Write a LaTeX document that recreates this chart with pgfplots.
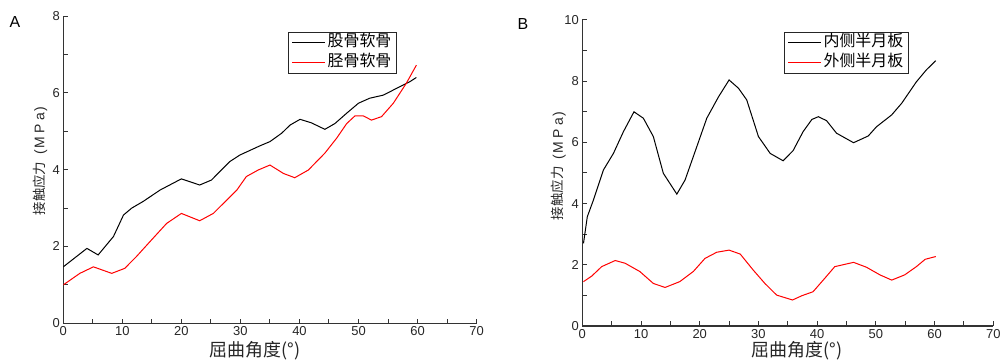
\documentclass[border=0pt]{standalone}
\usepackage{fontspec}
\setmainfont{Liberation Sans}
\newfontfamily\cjk{Noto Sans CJK SC}
\usepackage{pgfplots}
\pgfplotsset{compat=1.18}
\newcommand{\ylab}{{\cjk\fontsize{13.5}{15}\selectfont 接触应力}\hspace{7bp}{\rmfamily\fontsize{14}{16}\selectfont (\kern1.5bp M\kern3.5bp P\kern3.5bp a\kern1.5bp)}}
\begin{document}
\begin{tikzpicture}
\useasboundingbox (0bp,0bp) rectangle (1000bp,362bp);
\pgfplotsset{myaxis/.style={
 scale only axis, axis x line*=bottom, axis y line*=left,
 axis line style={-, line width=1.2bp, black!80},
 tick align=inside, major tick length=4.5bp, minor tick length=4.5bp,
 tick style={black!80, line width=1bp},
 xmin=0,xmax=70, xtick={0,10,...,70}, minor xtick={5,15,...,65},
 /pgf/number format/assume math mode=true,
 tick label style={font=\fontsize{13}{15}\selectfont, text=black!85},
 xlabel style={font=\cjk\fontsize{18}{20}\selectfont, text=black!85, anchor=center},
 ylabel style={text=black!85, anchor=center},
 legend style={draw=black!85, line width=1bp, font=\cjk\fontsize{16}{18}\selectfont, anchor=north west, inner xsep=3bp, inner ysep=1.5bp, row sep=2bp,
   nodes={text height=11bp, text depth=3bp}},
 legend cell align=left,
 legend image code/.code={\draw[#1] (0bp,0bp) -- (33bp,0bp);},
 every axis plot/.append style={line width=1bp, mark=none},
}}
\node[font=\fontsize{16}{18}\selectfont] at (15bp,340bp) {A};
\node[font=\fontsize{16}{18}\selectfont] at (523bp,338bp) {B};
\begin{axis}[myaxis, at={(63.3bp,38.7bp)}, anchor=south west, width=413.3bp, height=307.3bp,
 ymin=0, ymax=8, ytick={0,2,...,8}, minor ytick={1,3,5,7},
 xlabel={屈曲角度(°)}, ylabel={\ylab},
 xlabel style={at={(axis description cs:0.464,0)}, yshift=-27.7bp},
 ylabel style={at={(axis description cs:-0.0564,0.528)}},
 legend style={at={(0.544,0.948)}}]
\addplot[black] coordinates {
(0,1.47) (4,1.95) (5.9,1.78) (8.5,2.26) (10.2,2.82) (11.6,3.0) (13.5,3.17) (16.4,3.47)
(20,3.76) (23.1,3.6) (25.1,3.73) (26.5,3.95) (28.2,4.21) (29.9,4.38) (33.3,4.62) (35,4.73)
(37,4.95) (38.4,5.16) (40.1,5.31) (42,5.22) (44.3,5.05) (46,5.2) (48,5.47) (50,5.73)
(51.9,5.86) (54.2,5.94) (57,6.16) (58.7,6.29) (59.8,6.4)};
\addlegendentry{股骨软骨}
\addplot[red] coordinates {
(0,1.0) (2.8,1.3) (5.1,1.47) (8.2,1.3) (10.4,1.43) (12.4,1.74) (14.7,2.13) (17.5,2.6)
(20,2.86) (23.1,2.67) (25.4,2.86) (27.7,3.21) (29.4,3.47) (31,3.82) (33,3.99) (35,4.12)
(37.3,3.9) (39.2,3.79) (41.5,3.99) (44.3,4.43) (46.3,4.82) (48,5.2) (49.4,5.4) (50.8,5.4)
(52.2,5.29) (53.9,5.38) (55.9,5.73) (58.1,6.25) (59.8,6.72)};
\addlegendentry{胫骨软骨}
\end{axis}
\begin{axis}[myaxis, at={(582.3bp,36bp)}, anchor=south west, width=411bp, height=306bp,
 ymin=0, ymax=10, ytick={0,2,...,10}, minor ytick={1,3,...,9},
 xlabel={屈曲角度(°)}, ylabel={\ylab},
 xlabel style={at={(axis description cs:0.522,0)}, yshift=-25bp},
 ylabel style={at={(axis description cs:-0.0574,0.523)}},
 legend style={at={(0.491,0.961)}}]
\addplot[black] coordinates {
(0.2,2.7) (0.85,3.57) (1.9,4.12) (3.6,5.1) (5.3,5.64) (7,6.35) (8.8,7.0) (10.4,6.79)
(12.1,6.19) (13.8,4.99) (16.1,4.31) (17.5,4.77) (19.5,5.86) (21.2,6.79) (23.2,7.49) (25,8.04)
(26.6,7.77) (28,7.39) (30,6.19) (32,5.64) (34.2,5.4) (35.9,5.73) (37.6,6.35) (39.1,6.75)
(40.2,6.84) (41.6,6.71) (43.3,6.3) (46.2,5.99) (48.7,6.21) (50.1,6.51) (52.7,6.9) (54.4,7.28)
(56.9,7.98) (58.6,8.37) (60.2,8.67)};
\addlegendentry{内侧半月板}
\addplot[red] coordinates {
(0.2,1.45) (1.6,1.63) (3.3,1.94) (5.6,2.14) (7.3,2.05) (9.8,1.78) (12.1,1.39) (14.1,1.26)
(16.6,1.45) (18.9,1.78) (20.9,2.21) (22.9,2.41) (25,2.48) (26.9,2.35) (29.1,1.83) (31.1,1.39)
(33.1,1.01) (35.8,0.85) (37.4,0.99) (39.3,1.12) (41.3,1.56) (43,1.94) (46.2,2.08) (48.4,1.92)
(50.7,1.67) (52.7,1.5) (54.9,1.67) (56.9,1.94) (58.4,2.18) (60.2,2.27)};
\addlegendentry{外侧半月板}
\end{axis}
\end{tikzpicture}
\end{document}
